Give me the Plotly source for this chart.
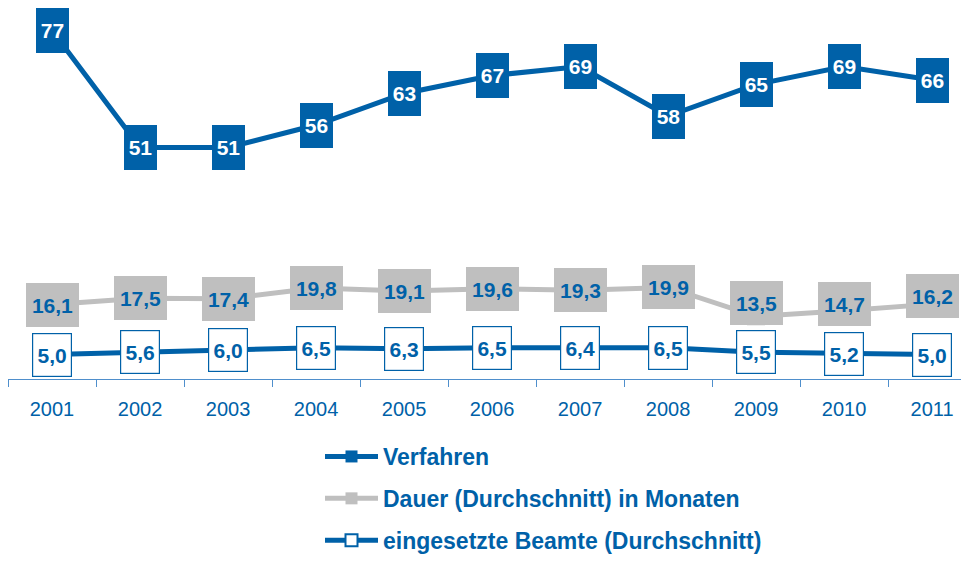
import plotly.graph_objects as go

years = ["2001", "2002", "2003", "2004", "2005", "2006", "2007", "2008", "2009", "2010", "2011"]
verfahren = [77, 51, 51, 56, 63, 67, 69, 58, 65, 69, 66]
dauer = [16.1, 17.5, 17.4, 19.8, 19.1, 19.6, 19.3, 19.9, 13.5, 14.7, 16.2]
beamte = [5.0, 5.6, 6.0, 6.5, 6.3, 6.5, 6.4, 6.5, 5.5, 5.2, 5.0]
series_names = ["Verfahren", "Dauer (Durchschnitt) in Monaten", "eingesetzte Beamte (Durchschnitt)"]

BLUE = "#0061a8"
GRAY = "#bfbfbf"
AXIS = "#4f8fcc"
FONT = "Liberation Sans, Arial, sans-serif"

# label offsets in pixels (styling only)
dauer_label_shift = {"2009": 13, "2010": 7, "2011": 8}

def fmt(v):
    return f"{v:.1f}".replace(".", ",")

fig = go.Figure()
fig.add_trace(go.Scatter(
    x=years, y=verfahren, name=series_names[0], mode="lines+markers",
    line=dict(color=BLUE, width=5),
    marker=dict(symbol="square", size=28, color=BLUE),
    legendgroup="a", cliponaxis=False))
fig.add_trace(go.Scatter(
    x=years, y=dauer, name=series_names[1], mode="lines+markers",
    line=dict(color=GRAY, width=5),
    marker=dict(symbol="square", size=18, color=GRAY),
    legendgroup="b", cliponaxis=False))
fig.add_trace(go.Scatter(
    x=years, y=beamte, name=series_names[2], mode="lines+markers",
    line=dict(color=BLUE, width=5),
    marker=dict(symbol="square", size=28, color="white", line=dict(color=BLUE, width=1.5)),
    legendgroup="c", cliponaxis=False))

annotations = []
for i, (yr, v) in enumerate(zip(years, verfahren)):
    annotations.append(dict(
        x=i, y=v, xref="x", yref="y", text=f"<b>{v}</b>", showarrow=False,
        font=dict(family=FONT, size=21, color="white"),
        bgcolor=BLUE, borderpad=0, borderwidth=0, width=33, height=45))
for i, (yr, v) in enumerate(zip(years, dauer)):
    annotations.append(dict(
        x=i, y=v, xref="x", yref="y", text=f"<b>{fmt(v)}</b>", showarrow=False,
        font=dict(family=FONT, size=21, color=BLUE),
        bgcolor=GRAY, borderpad=0, borderwidth=0, width=53, height=44,
        yshift=dauer_label_shift.get(yr, 0)))
for i, (yr, v) in enumerate(zip(years, beamte)):
    annotations.append(dict(
        x=i, y=v, xref="x", yref="y", text=f"<b>{fmt(v)}</b>", showarrow=False,
        font=dict(family=FONT, size=21, color=BLUE),
        bgcolor="white", bordercolor=BLUE, borderpad=0, borderwidth=1.2,
        width=38, height=42))

# page body has an 8px default margin, so the figure is sized to the remaining window
W, H = 961, 554
fig.update_layout(
    width=W, height=H,
    margin=dict(l=0, r=0, t=0, b=0),
    paper_bgcolor="white", plot_bgcolor="white",
    annotations=annotations,
    showlegend=True,
    legend=dict(
        x=312 / W, y=0,
        xanchor="left", yanchor="bottom",
        font=dict(family=FONT, size=23, color=BLUE, weight="bold"),
        itemsizing="constant", itemwidth=53, tracegroupgap=9,
        bgcolor="rgba(0,0,0,0)"),
    xaxis=dict(
        type="category", range=[-0.5, 10.42], showgrid=False, zeroline=False,
        showline=True, linecolor=AXIS, linewidth=1,
        ticks="outside", tickson="boundaries", ticklen=7, tickcolor=AXIS, tickwidth=1,
        tickfont=dict(family=FONT, size=20, color=BLUE), tickangle=0,
        ticklabelstandoff=12, fixedrange=True),
    yaxis=dict(
        domain=[183 / H, 1],
        range=[-0.44, 82.0], visible=False, showgrid=False, zeroline=False, fixedrange=True),
)

fig.write_html("out.html")
